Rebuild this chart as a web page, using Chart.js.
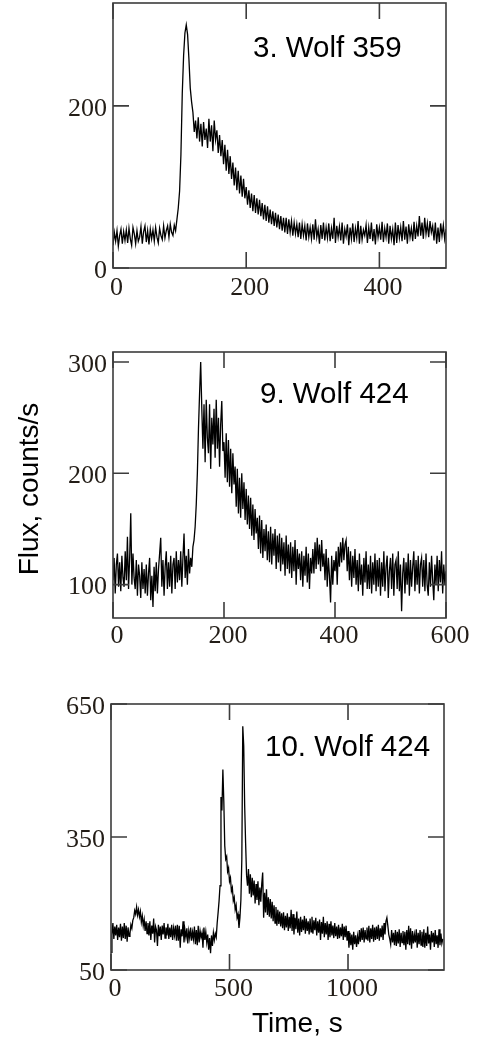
<!DOCTYPE html>
<html>
<head>
<meta charset="utf-8">
<script src="https://cdn.jsdelivr.net/npm/chart.js@4.4.1/dist/chart.umd.min.js"></script>
<style>
html,body{margin:0;padding:0;background:#fff;width:484px;height:1038px;overflow:hidden;}
canvas{position:absolute;left:0;}
</style>
</head>
<body>
<canvas id="c1" width="484" height="310" style="top:0px"></canvas>
<canvas id="c2" width="484" height="340" style="top:320px"></canvas>
<canvas id="c3" width="484" height="368" style="top:670px"></canvas>
<script>
// ---------- DATA ----------
// Panel 1: 3. Wolf 359, sampled every 2 s from 0 to 500 s
const title1 = "3. Wolf 359";
const dt1 = 2;
const flux1 = [
  28,44,33,46,27,40,48,30,45,34,
  47,31,49,36,28,50,42,30,46,33,
  38,51,30,45,52,32,46,29,48,36,
  47,33,50,38,31,49,40,35,52,37,
  46,52,38,54,44,40,53,46,60,74,
  95,140,215,262,290,300,288,258,222,205,
  192,168,182,160,186,156,178,150,180,158,
  172,148,184,156,176,144,182,158,170,142,
  164,138,158,128,152,120,146,116,138,110,
  130,102,124,96,120,92,114,88,110,86,
  100,78,96,74,92,70,90,68,86,66,
  84,64,80,60,78,58,76,56,72,54,
  70,52,68,50,66,48,64,46,62,44,
  62,42,60,44,58,40,56,42,54,38,
  56,36,54,40,52,34,55,38,50,36,
  54,35,60,38,48,30,53,36,56,34,
  50,37,55,33,49,36,62,31,52,38,
  51,34,56,30,48,39,54,28,50,36,
  55,32,49,37,58,30,52,35,47,40,
  53,31,50,36,56,33,48,29,54,38,
  50,35,57,32,49,38,55,30,52,36,
  48,28,56,31,53,37,50,33,58,35,
  51,30,54,38,49,33,57,36,52,39,
  64,40,56,36,62,42,55,38,58,44,
  52,34,56,30,50,32,55,40,53,36,
  48
];
const xTicks1 = [0, 200, 400];
const yTicks1 = [0, 200];

// Panel 2: 9. Wolf 424, sampled every 2 s from 0 to 600 s
const title2 = "9. Wolf 424";
const dt2 = 2;
const flux2 = [
  104,124,92,118,128,98,120,94,126,106,
  98,130,104,143,96,124,164,100,128,106,
  96,122,90,118,108,88,120,96,114,92,
  118,90,110,124,86,108,80,116,94,120,
  92,114,128,142,98,122,90,116,130,96,
  120,98,126,92,118,124,96,130,102,122,
  104,130,98,124,146,106,126,100,132,110,
  124,116,134,140,152,172,200,240,272,300,
  258,222,262,210,266,232,218,262,204,250,
  226,258,214,266,222,250,206,244,265,220,
  228,196,236,192,230,188,222,182,218,190,
  206,170,204,164,196,160,200,168,192,158,
  186,154,180,150,178,144,172,140,168,146,
  160,132,162,128,158,124,150,130,154,122,
  148,120,152,118,146,126,150,114,144,120,
  146,112,142,118,138,108,144,114,136,110,
  138,106,134,112,140,100,132,114,128,104,
  130,98,126,108,134,102,128,96,124,110,
  132,110,138,114,142,118,136,112,140,116,
  128,104,132,98,124,108,84,126,100,122,
  112,130,100,134,116,138,120,142,122,136,
  140,112,134,104,130,98,126,106,132,100,
  122,94,128,100,118,90,124,102,130,96,
  118,96,126,92,120,100,128,94,122,98,
  124,90,120,98,130,94,116,126,88,112,
  124,96,128,90,118,122,96,130,94,118,
  76,110,124,92,120,100,128,90,122,98,
  116,130,94,122,100,126,92,118,124,98,
  122,94,128,100,90,120,98,126,104,86,
  118,100,126,94,122,102,130,92,118,100,
  112
];
const xTicks2 = [0, 200, 400, 600];
const yTicks2 = [100, 200, 300];

// Panel 3: 10. Wolf 424, sampled every 4 s from 0 to 1400 s
const title3 = "10. Wolf 424";
const dt3 = 4;
const flux3 = [
  90,130,156,120,148,128,152,118,146,124,
  154,116,148,122,156,120,150,114,146,126,
  132,152,144,162,168,184,176,192,174,186,
  170,182,158,172,150,164,138,160,132,156,
  128,160,118,150,132,166,112,148,140,104,
  152,126,148,118,150,130,156,122,146,128,
  154,120,146,124,152,118,144,128,150,116,
  152,116,150,100,142,126,160,112,140,124,
  144,110,138,122,146,116,136,120,148,108,
  140,106,150,112,138,124,134,100,146,118,
  136,112,130,96,122,88,128,104,134,118,
  132,124,156,180,206,240,440,410,502,430,
  330,300,306,272,280,250,258,228,236,206,
  214,186,196,168,176,145,168,208,300,600,
  556,420,336,264,240,278,222,266,214,258,
  218,252,200,244,208,250,196,236,204,244,
  270,168,224,180,232,174,214,170,210,166,
  204,160,196,156,192,150,186,154,182,148,
  178,144,180,140,172,146,178,138,170,144,
  186,138,176,130,168,142,182,134,166,128,
  170,136,164,140,172,132,166,138,160,130,
  166,136,170,132,162,140,168,128,160,134,
  164,118,158,132,170,124,156,130,160,118,
  154,124,160,128,150,122,156,126,148,120,
  152,122,146,126,154,118,148,124,150,116,
  138,100,134,106,130,96,136,108,128,102,
  126,108,140,114,144,118,146,112,140,120,
  146,116,150,112,144,120,152,114,146,118,
  148,120,152,116,144,124,150,118,156,130,
  160,168,150,130,120,108,140,112,134,106,
  140,104,136,110,142,102,134,112,138,106,
  136,96,140,108,150,106,144,98,138,110,
  130,112,142,100,134,108,140,106,136,102,
  142,100,134,104,148,110,130,96,138,112,
  134,102,140,108,128,100,142,106,132,110,
  120
];
const xTicks3 = [0, 500, 1000];
const yTicks3 = [50, 350, 650];

const yTitle = "Flux, counts/s";
const xTitle = "Time, s";

// ---------- STYLE ----------
const tickFont = { family: "'Liberation Serif', 'Times New Roman', serif", size: 26 };
const tickColor = '#231d17';
const frameColor = '#3c3c3c';
const sansFont = "'Liberation Sans', Arial, sans-serif";

const framePlugin = {
  id: 'frame',
  afterDraw(chart, args, opts) {
    const { ctx, chartArea: a, scales } = chart;
    ctx.save();
    ctx.strokeStyle = frameColor;
    ctx.lineWidth = 1.6;
    ctx.strokeRect(a.left, a.top, a.right - a.left, a.bottom - a.top);
    const L = 16;
    ctx.beginPath();
    scales.x.ticks.forEach(t => {
      const px = scales.x.getPixelForValue(t.value);
      ctx.moveTo(px, a.bottom); ctx.lineTo(px, a.bottom - L);
      ctx.moveTo(px, a.top); ctx.lineTo(px, a.top + L);
    });
    scales.y.ticks.forEach(t => {
      const py = scales.y.getPixelForValue(t.value);
      ctx.moveTo(a.left, py); ctx.lineTo(a.left + L, py);
      ctx.moveTo(a.right, py); ctx.lineTo(a.right - L, py);
    });
    ctx.stroke();
    ctx.fillStyle = '#000';
    (opts.texts || []).forEach(t => {
      ctx.save();
      ctx.font = t.font;
      ctx.textAlign = t.align || 'left';
      ctx.textBaseline = 'alphabetic';
      ctx.translate(t.x, t.y);
      if (t.rotate) ctx.rotate(t.rotate);
      ctx.fillText(t.text, 0, 0);
      ctx.restore();
    });
    ctx.restore();
  }
};

function makeChart(id, o) {
  const points = o.flux.map((v, i) => ({ x: i * o.dt, y: v }));
  return new Chart(document.getElementById(id), {
    type: 'line',
    data: {
      datasets: [{
        data: points,
        borderColor: '#000',
        borderWidth: 1.3,
        pointRadius: 0,
        tension: 0,
        fill: false
      }]
    },
    options: {
      responsive: false,
      animation: false,
      devicePixelRatio: 1,
      events: [],
      layout: { padding: { top: o.padTop, right: o.padRight, left: 0, bottom: 0 } },
      plugins: {
        legend: { display: false },
        tooltip: { enabled: false },
        frame: { texts: o.texts }
      },
      scales: {
        x: {
          type: 'linear', min: o.xMin, max: o.xMax,
          grid: { display: false, drawTicks: false },
          border: { display: false },
          afterBuildTicks: s => { s.ticks = o.xTicks.map(v => ({ value: v })); },
          afterFit: s => { s.height = o.xAxisH; s.paddingLeft = 0; s.paddingRight = 0; },
          ticks: {
            font: tickFont, color: tickColor, padding: o.xPad, labelOffset: o.xOff,
            maxRotation: 0, autoSkip: false, callback: v => String(v)
          }
        },
        y: {
          type: 'linear', min: o.yMin, max: o.yMax,
          grid: { display: false, drawTicks: false },
          border: { display: false },
          afterBuildTicks: s => { s.ticks = o.yTicks.map(v => ({ value: v })); },
          afterFit: s => { s.width = o.yAxisW; s.paddingTop = 0; s.paddingBottom = 0; },
          ticks: {
            font: tickFont, color: tickColor, padding: 6, labelOffset: 3,
            autoSkip: false, callback: v => String(v)
          }
        }
      }
    },
    plugins: [framePlugin]
  });
}

makeChart('c1', {
  flux: flux1, dt: dt1, xMin: 0, xMax: 500, yMin: 0, yMax: 327,
  xTicks: xTicks1, yTicks: yTicks1,
  padTop: 3, padRight: 38, xAxisH: 42, yAxisW: 113, xPad: 5, xOff: 3.5,
  texts: [{ text: title1, x: 253, y: 57, font: "29.5px " + sansFont }]
});

makeChart('c2', {
  flux: flux2, dt: dt2, xMin: 0, xMax: 600, yMin: 70, yMax: 309,
  xTicks: xTicks2, yTicks: yTicks2,
  padTop: 32, padRight: 38, xAxisH: 42, yAxisW: 113, xPad: 3, xOff: 4,
  texts: [
    { text: title2, x: 260, y: 83, font: "29.5px " + sansFont },
    { text: yTitle, x: 38, y: 169, font: "28px " + sansFont, align: 'center', rotate: -Math.PI / 2 }
  ]
});

makeChart('c3', {
  flux: flux3, dt: dt3, xMin: 0, xMax: 1405, yMin: 50, yMax: 650,
  xTicks: xTicks3, yTicks: yTicks3,
  padTop: 34, padRight: 40, xAxisH: 68, yAxisW: 111, xPad: 4, xOff: 4,
  texts: [
    { text: title3, x: 265, y: 86, font: "29.5px " + sansFont },
    { text: xTitle, x: 252, y: 362, font: "28px " + sansFont }
  ]
});
</script>
</body>
</html>
